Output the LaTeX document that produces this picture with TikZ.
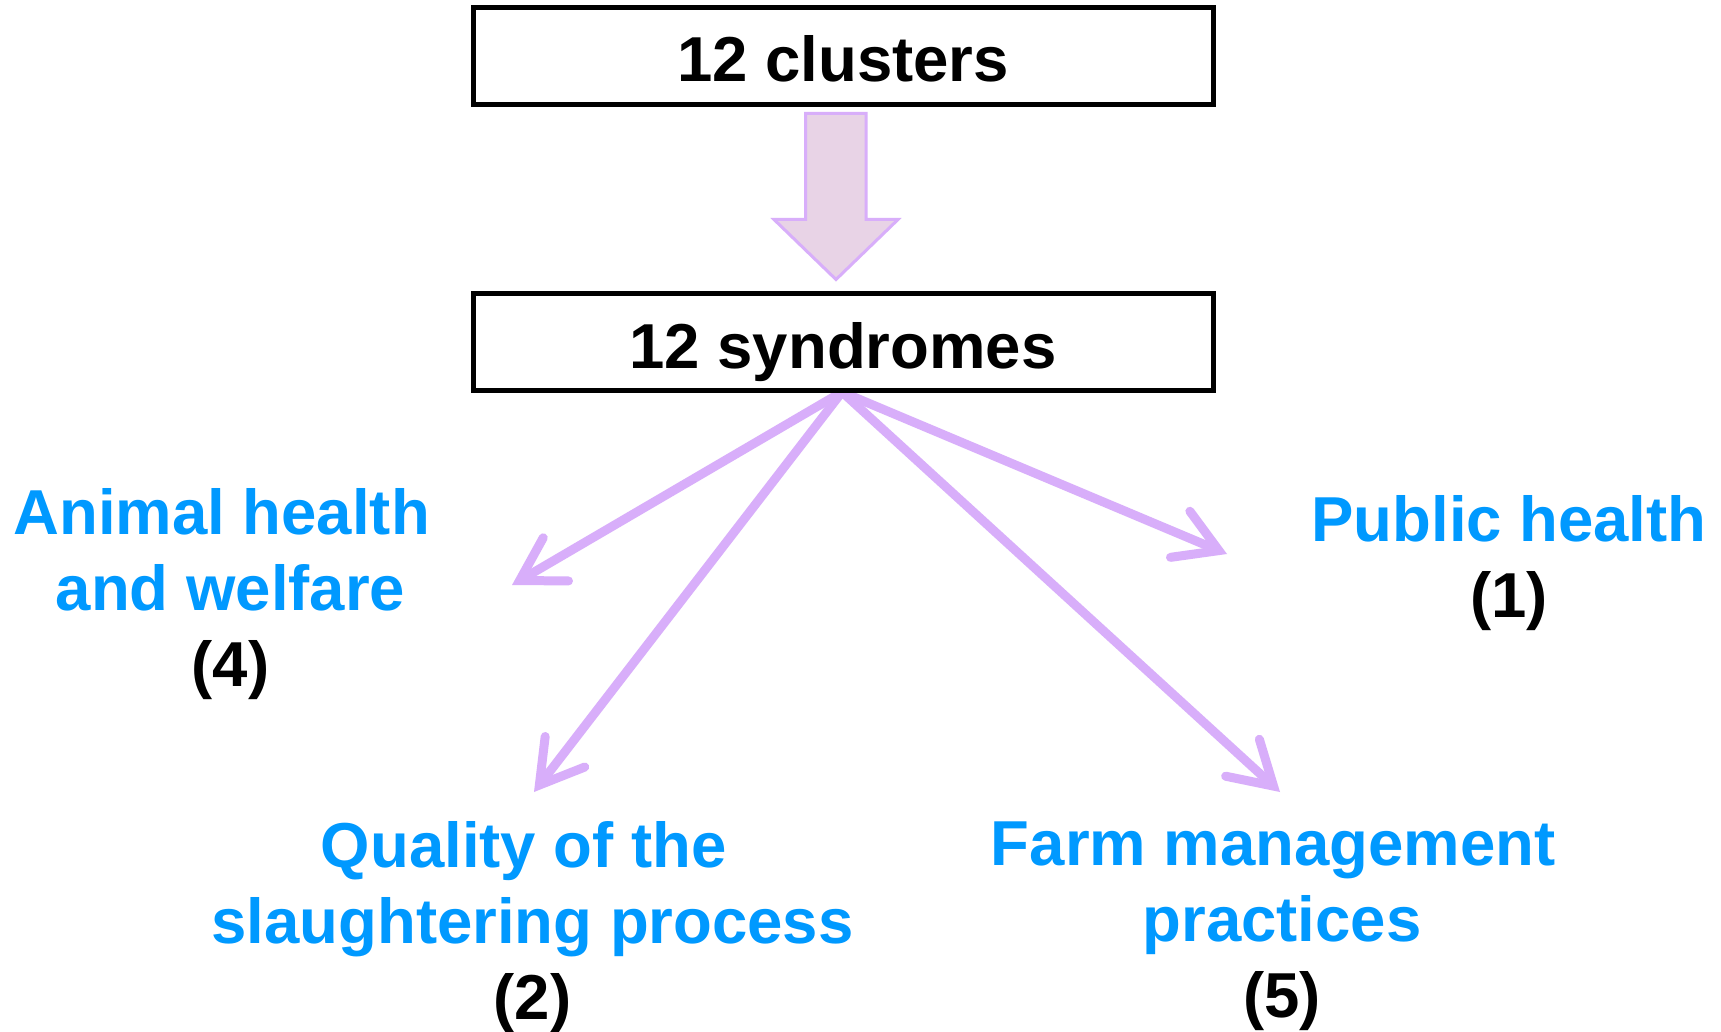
\documentclass[tikz,border=0pt]{standalone}
\usepackage{fontspec}
\setmainfont{Liberation Sans}
\usetikzlibrary{arrows.meta}
\definecolor{catblue}{RGB}{0,153,255}
\definecolor{arrpurple}{RGB}{216,174,250}
\definecolor{arrfill}{RGB}{232,211,230}
\newcommand{\trsp}{\kern17.6pt\relax}
\tikzset{
  box/.style={draw=black, line width=5pt, fill=white, minimum width=740pt, minimum height=97pt,
    inner sep=0pt, text height=52pt, text depth=0pt, font=\fontsize{63.5}{76}\selectfont\bfseries},
  cat/.style={anchor=north, inner sep=0pt, align=center, font=\fontsize{63.5}{76}\selectfont\bfseries},
  link/.style={draw=arrpurple, line width=9pt, line cap=round,
    -{Straight Barb[length=42pt, width=50pt, line cap=round, line join=miter]}},
  bigarrow/.style={draw=arrpurple, line width=3pt, fill=arrfill, line join=miter}
}
\begin{document}
\begin{tikzpicture}[x=1pt, y=-1pt]
\clip (0,0) rectangle (1721,1032);
\fill[white] (0,0) rectangle (1721,1032);

% target points of the connectors
\coordinate (tA) at (512,585);
\coordinate (tP) at (1227,554);
\coordinate (tQ) at (534,792);
\coordinate (tF) at (1280,792);

\draw[link] (842,392) -- (tA);
\draw[link] (842,392) -- (tP);
\draw[link] (842,392) -- (tQ);
\draw[link] (842,392) -- (tF);

\node[box] (clusters) at (843,55.7) {12 clusters};
\node[box] (syndromes) at (843,342) {12 syndromes};

% big block arrow between the boxes
\draw[bigarrow] (805.5,113.5) -- (866,113.5) -- (866,219.5) -- (898,219.5) -- (836,279.5)
  -- (774,219.5) -- (805.5,219.5) -- cycle;

\node[cat] (animal) at (230.5,488.5) {\textcolor{catblue}{Animal health}\hbox{}\trsp\\\textcolor{catblue}{and welfare}\\(4)};
\node[cat] (public) at (1509,495.5) {\textcolor{catblue}{Public health}\\(1)};
\node[cat] (quality) at (532.5,821.5) {\textcolor{catblue}{Quality of the}\hbox{}\trsp\\\textcolor{catblue}{slaughtering process}\\(2)};
\node[cat] (farm) at (1282,821.5) {\textcolor{catblue}{Farm management}\hbox{}\trsp\\\textcolor{catblue}{practices}\\(5)};
\end{tikzpicture}
\end{document}
